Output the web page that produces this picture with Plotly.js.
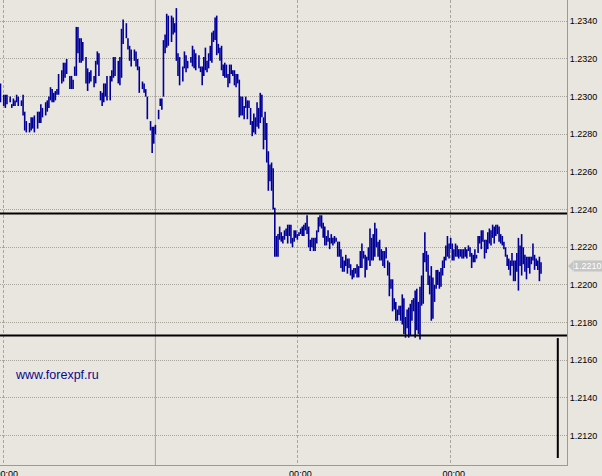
<!DOCTYPE html>
<html>
<head>
<meta charset="utf-8">
<script src="https://cdn.plot.ly/plotly-3.0.1.min.js"></script>
<style>
html,body{margin:0;padding:0;background:#e9e5df;overflow:hidden;}
#chart{width:602px;height:476px;}
</style>
</head>
<body>
<div id="chart"></div>
<script>
// M15 bar number of each bar (time axis)
const BAR_NO = [
0,2,3,4,6,7,8,9,10,11,13,14,15,16,18,19,20,21,23,24,
25,26,28,29,30,31,32,33,34,35,36,38,39,40,41,43,44,45,46,47,
48,49,50,51,53,54,55,56,58,59,60,61,62,63,64,65,66,68,69,70,
71,73,74,75,76,78,79,80,81,83,84,85,86,88,89,90,91,93,94,95,
96,98,99,100,101,102,103,104,106,107,108,109,110,111,113,114,115,116,118,119,
120,121,123,124,125,
126,127,128,129,130,131,132,133,134,135,136,137,138,139,140,141,142,143,144,145,
146,147,148,149,150,151,152,153,154,155,156,157,158,159,160,161,162,163,164,165,
166,167,168,169,170,171,172,173,174,175,176,177,178,179,180,181,182,183,184,185,
186,187,188,189,190,191,192,193,194,195,196,197,198,199,200,201,202,203,204,205,
206,207,208,209,210,211,212,213,214,215,216,217,218,219,220,221,222,223,224,225,
226,227,228,229,230,231,232,233,234,235,236,237,238,239,240,241,242,243,244,245,
246,247,248,249,250,251,252,253,254,255,256,257,258,259,260,261,262,263,264,265,
266,267,268,269,270,271,272,273,274,275,276,277,278,279,280,281,282,283,284,285,
286,287,288,289,290,291,292,293,294,295,296,297,298,299,300,301,302,303,304,305,
306,307,308,309,310,311,312,313,314,315,316,317,318,319,320,321,322,323,324,325,
326,327,328,329,330,331,332,333,334,335
];

const HIGH = [
1.2307,1.2301,1.2301,1.2301,1.2300,1.2296,1.2299,1.2298,1.2301,1.2300,
1.2298,1.2301,1.2292,1.2287,1.2286,1.2289,1.2289,1.2290,1.2292,1.2292,
1.2296,1.2294,1.2297,1.2298,1.2300,1.2305,1.2304,1.2302,1.2303,1.2304,
1.2312,1.2314,1.2318,1.2318,1.2320,1.2311,1.2311,1.2309,1.2316,1.2337,
1.2337,1.2331,1.2331,1.2329,1.2321,1.2315,1.2313,1.2314,1.2311,1.2319,
1.2324,1.2323,1.2303,1.2302,1.2307,1.2307,1.2311,1.2311,1.2314,1.2321,
1.2321,1.2319,1.2321,1.2336,1.2341,1.2339,1.2331,1.2327,1.2325,1.2325,
1.2324,1.2320,1.2316,1.2308,1.2307,1.2304,1.2300,1.2287,1.2284,1.2284,
1.2285,1.2293,1.2299,1.2299,1.2330,1.2333,1.2344,1.2343,1.2343,1.2342,
1.2339,1.2347,1.2323,1.2321,1.2316,1.2324,1.2322,1.2319,1.2321,1.2327,
1.2325,1.2323,1.2322,1.2316,1.2316,
1.2321,1.2326,1.2319,1.2323,1.2327,1.2334,1.2335,1.2342,1.2343,1.2328,
1.2326,1.2327,1.2317,1.2318,1.2317,1.2312,1.2317,1.2317,1.2314,1.2314,
1.2312,1.2312,1.2309,1.2300,1.2300,1.2295,1.2300,1.2298,1.2298,1.2294,
1.2287,1.2291,1.2289,1.2297,1.2294,1.2302,1.2301,1.2289,1.2292,1.2286,
1.2271,1.2264,1.2265,1.2262,1.2241,1.2226,1.2227,1.2231,1.2228,1.2226,
1.2229,1.2230,1.2232,1.2232,1.2232,1.2225,1.2229,1.2229,1.2227,1.2228,
1.2230,1.2231,1.2232,1.2233,1.2237,1.2231,1.2224,1.2225,1.2225,1.2225,
1.2229,1.2236,1.2237,1.2237,1.2233,1.2231,1.2226,1.2229,1.2225,1.2227,
1.2225,1.2226,1.2225,1.2223,1.2223,1.2219,1.2215,1.2213,1.2216,1.2214,
1.2214,1.2211,1.2208,1.2209,1.2209,1.2211,1.2210,1.2218,1.2222,1.2218,
1.2216,1.2215,1.2220,1.2230,1.2225,1.2227,1.2233,1.2230,1.2223,1.2224,
1.2219,1.2218,1.2218,1.2220,1.2213,
1.2212,1.2203,1.2203,1.2193,1.2191,1.2187,1.2189,1.2189,1.2195,1.2193,
1.2183,1.2187,1.2188,1.2190,1.2192,1.2193,1.2197,1.2198,1.2191,1.2199,
1.2205,1.2217,1.2228,1.2218,1.2216,1.2205,1.2210,1.2204,1.2200,1.2208,
1.2208,1.2207,1.2209,
1.2213,1.2215,1.2221,1.2226,1.2222,1.2225,1.2222,1.2219,1.2222,1.2221,
1.2219,1.2219,1.2219,1.2219,1.2220,1.2219,1.2221,1.2220,1.2217,1.2216,
1.2219,1.2216,1.2226,1.2226,1.2229,1.2229,1.2224,1.2224,1.2228,1.2230,
1.2229,1.2232,1.2231,1.2232,1.2232,1.2231,1.2227,1.2226,1.2223,1.2220,
1.2216,1.2214,1.2213,1.2217,1.2213,1.2213,1.2217,1.2225,1.2221,1.2227,
1.2220,1.2216,1.2215,1.2215,1.2215,1.2215,1.2222,1.2216,1.2214,1.2213,
1.2215,1.2212
];

const LOW = [
1.2297,1.2295,1.2294,1.2296,1.2297,1.2294,1.2295,1.2295,1.2297,1.2295,
1.2295,1.2290,1.2282,1.2281,1.2281,1.2282,1.2283,1.2281,1.2283,1.2286,
1.2286,1.2289,1.2290,1.2292,1.2294,1.2298,1.2297,1.2297,1.2298,1.2301,
1.2301,1.2307,1.2308,1.2310,1.2312,1.2304,1.2304,1.2304,1.2311,1.2311,
1.2323,1.2318,1.2318,1.2319,1.2307,1.2303,1.2307,1.2308,1.2305,1.2307,
1.2317,1.2311,1.2298,1.2295,1.2297,1.2300,1.2298,1.2298,1.2308,1.2310,
1.2311,1.2307,1.2306,1.2310,1.2328,1.2331,1.2325,1.2319,1.2316,1.2319,
1.2316,1.2314,1.2302,1.2304,1.2302,1.2300,1.2288,1.2282,1.2270,1.2275,
1.2280,1.2288,1.2295,1.2293,1.2300,1.2323,1.2326,1.2327,1.2329,1.2333,
1.2334,1.2319,1.2311,1.2306,1.2308,1.2315,1.2313,1.2315,1.2318,1.2316,
1.2315,1.2314,1.2315,1.2313,1.2306,
1.2311,1.2314,1.2313,1.2315,1.2319,1.2318,1.2329,1.2330,1.2322,1.2323,
1.2319,1.2314,1.2311,1.2310,1.2310,1.2305,1.2307,1.2312,1.2311,1.2306,
1.2305,1.2307,1.2289,1.2290,1.2290,1.2288,1.2294,1.2288,1.2294,1.2285,
1.2279,1.2281,1.2280,1.2284,1.2283,1.2286,1.2289,1.2272,1.2277,1.2265,
1.2250,1.2255,1.2250,1.2240,1.2215,1.2215,1.2215,1.2224,1.2223,1.2222,
1.2224,1.2226,1.2222,1.2226,1.2222,1.2220,1.2223,1.2225,1.2224,1.2226,
1.2227,1.2226,1.2226,1.2229,1.2227,1.2220,1.2218,1.2220,1.2218,1.2218,
1.2222,1.2228,1.2231,1.2230,1.2225,1.2221,1.2221,1.2223,1.2219,1.2222,
1.2221,1.2222,1.2223,1.2215,1.2215,1.2209,1.2207,1.2207,1.2210,1.2206,
1.2209,1.2205,1.2203,1.2204,1.2206,1.2204,1.2204,1.2209,1.2209,1.2214,
1.2204,1.2208,1.2213,1.2210,1.2213,1.2213,1.2215,1.2220,1.2215,1.2213,
1.2213,1.2210,1.2209,1.2214,1.2205,
1.2194,1.2198,1.2186,1.2187,1.2181,1.2181,1.2184,1.2181,1.2179,1.2174,
1.2172,1.2177,1.2172,1.2173,1.2181,1.2186,1.2172,1.2176,1.2174,1.2171,
1.2189,1.2190,1.2212,1.2207,1.2200,1.2195,1.2181,1.2182,1.2191,1.2198,
1.2200,1.2198,1.2199,
1.2205,1.2209,1.2213,1.2215,1.2214,1.2219,1.2213,1.2213,1.2215,1.2215,
1.2214,1.2215,1.2214,1.2214,1.2215,1.2214,1.2218,1.2215,1.2209,1.2212,
1.2212,1.2214,1.2217,1.2222,1.2219,1.2223,1.2214,1.2217,1.2219,1.2222,
1.2221,1.2225,1.2222,1.2226,1.2227,1.2223,1.2222,1.2221,1.2219,1.2215,
1.2210,1.2208,1.2205,1.2210,1.2202,1.2202,1.2207,1.2197,1.2210,1.2205,
1.2211,1.2207,1.2203,1.2209,1.2206,1.2211,1.2213,1.2208,1.2210,1.2208,
1.2202,1.2206
];

const TIME_TICK_BARS = [2, 184, 279];
const TIME_TICK_TEXT = ['00:00', '00:00', '00:00'];
const SEPARATOR_BAR = 96;
const RESISTANCE = 1.22379;
const SUPPORT = 1.21731;
const TARGET_BAR = 345.4;
const TARGET_FROM = 1.21718;
const TARGET_TO = 1.21081;
const LAST_PRICE = 1.2210;
const WATERMARK = 'www.forexpf.ru';

const BAR_COLOR = '#000099';
const BG = '#e9e5df';

// build vertical high-low segments
const xs = [], ys = [];
for (let i = 0; i < BAR_NO.length; i++) {
  xs.push(BAR_NO[i], BAR_NO[i], null);
  ys.push(HIGH[i], LOW[i], null);
}

const tickFont = {family: 'Liberation Sans, Arial, sans-serif', size: 9, color: '#000000'};

const data = [{
  type: 'scatter', mode: 'lines', x: xs, y: ys,
  line: {color: BAR_COLOR, width: 1.6},
  connectgaps: false, hoverinfo: 'skip'
}];

const layout = {
  width: 602, height: 476,
  paper_bgcolor: BG, plot_bgcolor: BG,
  margin: {l: 0, r: 35, t: 0, b: 11, pad: 0},
  showlegend: false,
  xaxis: {
    range: [-0.31, 351.1], tickmode: 'array', tickvals: TIME_TICK_BARS, ticktext: TIME_TICK_TEXT,
    showgrid: true, gridcolor: '#a8a49e', griddash: '3px,2px', gridwidth: 1,
    showline: true, linecolor: '#9a9a9a', linewidth: 1, ticks: '', zeroline: false,
    tickfont: tickFont, automargin: false, fixedrange: true,
    ticklabeloverflow: 'allow', ticklabelshift: 3
  },
  yaxis: {
    side: 'right', range: [1.21044, 1.23513], tick0: 1.2120, dtick: 0.002, tickformat: '.4f',
    showgrid: true, gridcolor: '#a8a49e', griddash: '1px,1px', gridwidth: 1,
    showline: true, linecolor: '#9a9a9a', linewidth: 1, ticks: '', zeroline: false,
    tickfont: tickFont, automargin: false, fixedrange: true, ticklabeloverflow: 'allow'
  },
  shapes: [
    {type: 'line', layer: 'below', xref: 'x', yref: 'paper', x0: SEPARATOR_BAR, x1: SEPARATOR_BAR, y0: 0, y1: 1,
     line: {color: '#a6a6a6', width: 1}},
    {type: 'line', xref: 'paper', yref: 'y', x0: 0, x1: 1, y0: RESISTANCE, y1: RESISTANCE,
     line: {color: '#000000', width: 2}},
    {type: 'line', xref: 'paper', yref: 'y', x0: 0, x1: 1, y0: SUPPORT, y1: SUPPORT,
     line: {color: '#000000', width: 2}},
    {type: 'line', xref: 'x', yref: 'y', x0: TARGET_BAR, x1: TARGET_BAR, y0: TARGET_FROM, y1: TARGET_TO,
     line: {color: '#000000', width: 2}},
    {type: 'path', xref: 'paper', yref: 'y',
     path: 'M 1.0018,' + LAST_PRICE + ' L 1.0106,' + (LAST_PRICE + 0.00026) + ' L 1.0106,' + (LAST_PRICE - 0.00026) + ' Z',
     fillcolor: '#c6c6c6', line: {width: 0}}
  ],
  annotations: [
    {text: WATERMARK, xref: 'paper', yref: 'paper', x: 0.0224, y: 0.1935, xanchor: 'left', yanchor: 'middle',
     showarrow: false, font: {family: 'Liberation Sans, Arial, sans-serif', size: 12.5, color: '#0a0a8c'}},
    {text: LAST_PRICE.toFixed(4), xref: 'paper', yref: 'y', x: 1.0106, y: LAST_PRICE, xanchor: 'left', yanchor: 'middle',
     showarrow: false, bgcolor: '#c6c6c6', borderpad: 0, xshift: -0.5,
     font: {family: 'Liberation Sans, Arial, sans-serif', size: 9, color: '#ffffff'}}
  ]
};

Plotly.newPlot('chart', data, layout, {staticPlot: true, displayModeBar: false});
</script>
</body>
</html>
